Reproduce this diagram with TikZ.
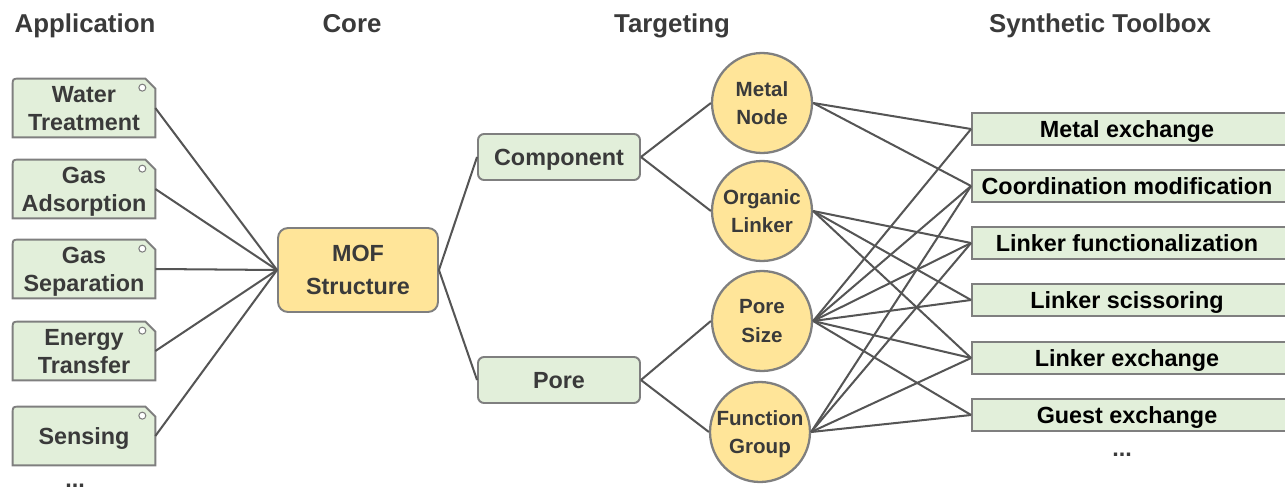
\documentclass[tikz,border=0pt]{standalone}
\usepackage{fontspec}
\setmainfont{Liberation Sans}
\usetikzlibrary{backgrounds}

\definecolor{boxgreen}{HTML}{E2EFDA}
\definecolor{coreyellow}{HTML}{FFE599}
\definecolor{edgegray}{HTML}{7F7F7F}
\definecolor{linkgray}{HTML}{555555}
\definecolor{textgray}{HTML}{3A3A3A}

\tikzset{
  header/.style={font=\fontsize{14.7}{17}\selectfont\bfseries, text=textgray, anchor=base},
  appbox/.style={minimum width=2.84cm, minimum height=1.16cm, inner sep=0pt, align=center,
    text depth=0pt, font=\fontsize{13.3}{15.9}\selectfont\bfseries, text=textgray},
  tagshape/.style={fill=boxgreen, draw=edgegray, line width=1.1pt},
  corebox/.style={draw=edgegray, fill=coreyellow, line width=1.1pt, rounded corners=0.2cm,
    minimum width=3.2cm, minimum height=1.68cm, align=center, text depth=0pt,
    font=\fontsize{13.3}{19}\selectfont\bfseries, text=textgray},
  partbox/.style={draw=edgegray, fill=boxgreen, line width=1.1pt, rounded corners=0.12cm,
    minimum width=3.24cm, minimum height=0.92cm, text depth=0pt,
    font=\fontsize{13.3}{15.9}\selectfont\bfseries, text=textgray},
  target/.style={circle, draw=edgegray, fill=coreyellow, line width=1.3pt, minimum size=2cm,
    inner sep=0pt, align=center, text depth=0pt, font=\fontsize{11.7}{16.4}\selectfont\bfseries, text=textgray},
  toolbox/.style={draw=edgegray, fill=boxgreen, line width=1.1pt, minimum width=6.36cm,
    minimum height=0.64cm, inner sep=0pt, text depth=0pt, execute at begin node=\hspace*{-0.16cm},
    font=\fontsize{13.3}{15.9}\selectfont\bfseries, text=black},
  moredots/.style={font=\fontsize{13.3}{15.9}\selectfont\bfseries, text=textgray,
    anchor=base, inner sep=0pt},
  link/.style={draw=linkgray, line width=1.15pt},
}

\begin{document}
\begin{tikzpicture}[x=0.02cm, y=-0.02cm]
  \useasboundingbox (0,0) rectangle (1285,490);

  % Column titles
  \node[header] (apphead) at (85,32) {Application};
  \node[header] (corehead) at (352,32) {Core};
  \node[header] (targethead) at (672,32) {Targeting};
  \node[header] (toolhead) at (1100,32) {Synthetic Toolbox};

  % Applications
  \node[appbox] (water) at (84,108) {Water\\Treatment};
  \node[appbox] (adsorb) at (84,189) {Gas\\Adsorption};
  \node[appbox] (separate) at (84,269) {Gas\\Separation};
  \node[appbox] (energy) at (84,351) {Energy\\Transfer};
  \node[appbox] (sensing) at (84,436) {Sensing};
  \node[moredots] (appdots) at (75,487) {...};

  % tag outlines behind the application texts
  \begin{scope}[on background layer]
    \foreach \n in {water,adsorb,separate,energy,sensing}{
      \filldraw[tagshape] (\n.south west) -- ([shift={(0,7)}]\n.north west)
        .. controls (\n.north west) .. ([shift={(7,0)}]\n.north west)
        -- ([shift={(-10,0)}]\n.north east) -- ([shift={(0,10)}]\n.north east)
        -- (\n.south east) -- cycle;
      \draw[draw=edgegray, fill=white, line width=0.6pt] ([shift={(-13,9)}]\n.north east) circle[radius=0.07cm];
    }
  \end{scope}

  % Core
  \node[corebox] (mof) at (358,270) {MOF\\Structure};

  % Targeting
  \node[partbox] (component) at (559,157) {Component};
  \node[partbox] (pore) at (559,380) {Pore};
  \node[target] (metal) at (762,103) {Metal\\Node};
  \node[target] (organic) at (762,211) {Organic\\Linker};
  \node[target] (poresize) at (762,321) {Pore\\Size};
  \node[target] (funcgroup) at (760,432) {Function\\Group};

  % Synthetic toolbox
  \node[toolbox] (metalex) at (1131,129) {Metal exchange};
  \node[toolbox] (coordmod) at (1131,186) {Coordination modification};
  \node[toolbox] (linkfunc) at (1131,243) {Linker functionalization};
  \node[toolbox] (scissor) at (1131,300) {Linker scissoring};
  \node[toolbox] (linkex) at (1131,358) {Linker exchange};
  \node[toolbox] (guestex) at (1131,415) {Guest exchange};
  \node[moredots] (tooldots) at (1122,456) {...};

  % Links
  \foreach \a in {water,adsorb,separate,energy,sensing}
    \draw[link] (\a.east) -- (mof.west);
  \draw[link] (mof.east) -- (component.west);
  \draw[link] (mof.east) -- (pore.west);
  \draw[link] (component.east) -- (metal.west);
  \draw[link] (component.east) -- (organic.west);
  \draw[link] (pore.east) -- (poresize.west);
  \draw[link] (pore.east) -- (funcgroup.west);

  \foreach \t in {metalex,coordmod}
    \draw[link] (metal.east) -- (\t.west);
  \foreach \t in {linkfunc,scissor,linkex}
    \draw[link] (organic.east) -- (\t.west);
  \foreach \t in {metalex,coordmod,linkfunc,scissor,linkex,guestex}
    \draw[link] (poresize.east) -- (\t.west);
  \foreach \t in {coordmod,linkfunc,linkex,guestex}
    \draw[link] (funcgroup.east) -- (\t.west);
\end{tikzpicture}
\end{document}
